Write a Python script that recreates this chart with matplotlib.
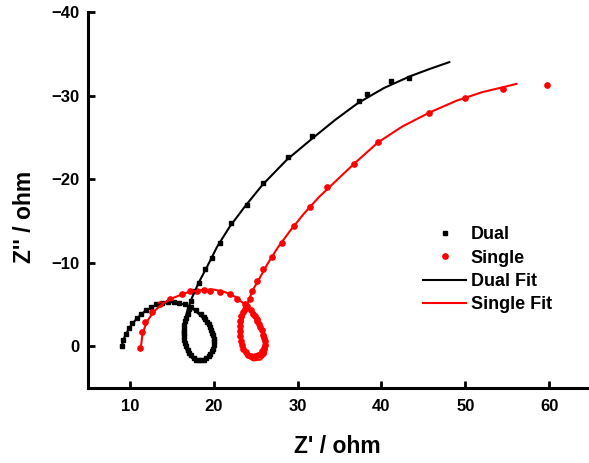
import matplotlib
matplotlib.use("Agg")
import matplotlib.pyplot as plt

plt.rcParams["font.family"] = ["Liberation Sans", "DejaVu Sans"]
plt.rcParams["font.weight"] = "bold"

# measured impedance, Z' and Z'' in ohm
dual_re = [9.0, 9.2, 9.5, 9.9, 10.3, 10.8, 11.3, 11.9, 12.5, 13.1, 13.8, 14.5,
           15.2, 15.9, 16.6, 17.3, 17.9, 18.5, 18.8, 19.0, 19.2, 19.4, 19.6,
           19.7, 19.8, 19.9, 20.0, 20.0, 20.0, 19.9, 19.8, 19.6, 19.4, 19.1,
           18.8, 18.5, 18.2, 17.9, 17.6, 17.3, 17.1, 16.9, 16.7, 16.6, 16.5,
           16.4, 16.4, 16.5, 16.5, 16.6, 16.7, 16.9, 17.0, 17.3, 17.7, 18.2,
           19.0, 19.8, 20.8, 22.1, 24.0, 25.9, 28.9, 31.7, 37.3, 38.3, 41.2,
           43.3]
dual_im = [0.0, -0.8, -1.5, -2.2, -2.8, -3.4, -3.9, -4.3, -4.7, -5.0, -5.2, -5.3,
           -5.3, -5.2, -5.0, -4.7, -4.3, -3.8, -3.5, -3.2, -2.9, -2.6, -2.3,
           -2.0, -1.6, -1.3, -0.9, -0.6, -0.2, 0.3, 0.6, 0.9, 1.2, 1.4,
           1.6, 1.7, 1.7, 1.6, 1.4, 1.1, 0.8, 0.4, 0.0, -0.4, -0.8,
           -1.2, -1.6, -2.1, -2.5, -3.0, -3.4, -3.9, -4.4, -5.4, -6.6, -7.6,
           -9.2, -10.6, -12.4, -14.7, -16.9, -19.5, -22.6, -25.2, -29.4, -30.2, -31.8,
           -32.1]

single_re = [11.2, 11.4, 11.8, 12.6, 13.6, 14.8, 16.2, 17.2, 18.0, 18.8, 19.6,
             20.8, 21.9, 22.8, 23.7, 24.4, 24.7, 24.9, 25.1, 25.2, 25.4, 25.5,
             25.7, 25.9, 26.0, 26.1, 26.1, 26.0, 25.8, 25.6, 25.3, 24.9, 24.5,
             24.1, 23.8, 23.5, 23.4, 23.2, 23.1, 23.1, 23.1, 23.1, 23.3, 23.5,
             23.7, 24.0, 24.3, 24.6, 25.2, 25.9, 27.0, 28.2, 29.6, 31.5, 33.5,
             36.7, 39.6, 45.7, 50.0, 54.5, 59.7]
single_im = [0.2, -1.7, -2.9, -4.1, -5.0, -5.6, -6.2, -6.6, -6.6, -6.7, -6.6,
             -6.5, -6.2, -5.6, -5.0, -4.3, -3.9, -3.6, -3.3, -3.0, -2.6, -2.3,
             -1.9, -1.4, -1.0, -0.6, -0.2, 0.2, 0.6, 0.9, 1.1, 1.2, 1.2,
             1.0, 0.7, 0.3, -0.1, -0.6, -1.2, -1.8, -2.4, -3.0, -3.6, -4.1,
             -4.5, -4.8, -5.6, -6.6, -7.8, -9.2, -10.7, -12.4, -14.4, -16.7, -19.1,
             -21.8, -24.5, -27.9, -29.7, -30.8, -31.3]

# equivalent-circuit fits
dual_fit_re = [9.0, 9.4, 10.0, 10.8, 11.8, 12.9, 14.1, 15.3, 16.5, 17.6, 18.6,
               19.4, 19.9, 20.0, 19.7, 19.0, 18.2, 17.4, 16.8, 16.4, 16.3, 16.5,
               16.9, 17.4, 18.2, 19.2, 20.4, 21.9, 23.7, 25.8, 28.7, 31.8, 34.5,
               37.2, 40.3, 43.4, 45.8, 48.1]
dual_fit_im = [0.0, -1.2, -2.3, -3.3, -4.2, -4.8, -5.2, -5.3, -5.0, -4.4, -3.5,
               -2.4, -1.2, 0.0, 1.0, 1.6, 1.8, 1.4, 0.6, -0.5, -1.7, -3.0,
               -4.4, -5.8, -7.6, -9.5, -11.9, -14.3, -16.7, -19.3, -22.3, -24.9, -27.1,
               -29.1, -30.9, -32.3, -33.2, -34.0]

single_fit_re = [11.3, 11.5, 12.0, 12.8, 13.9, 15.2, 16.7, 18.3, 19.9, 21.3,
                 22.6, 23.7, 24.7, 25.5, 26.1, 26.4, 26.2, 25.6, 24.7, 23.9,
                 23.4, 23.2, 23.3, 23.6, 24.1, 24.7, 25.5, 26.5, 27.7, 29.1,
                 30.7, 32.6, 34.7, 36.7, 39.6, 42.5, 45.8, 49.0, 52.0, 54.5, 56.1]
single_fit_im = [0.2, -1.5, -2.9, -4.1, -5.1, -5.8, -6.4, -6.7, -6.8, -6.5,
                 -5.9, -5.0, -3.9, -2.7, -1.4, -0.1, 1.0, 1.6, 1.7, 1.2,
                 0.3, -0.9, -2.3, -3.8, -5.3, -6.8, -8.2, -10.0, -11.9, -13.8,
                 -15.8, -17.9, -19.9, -21.8, -24.4, -26.3, -28.0, -29.4, -30.4, -31.0, -31.4]

fig = plt.figure(figsize=(5.89, 4.63), dpi=100)
ax = fig.add_axes([88 / 589, 75 / 463, 503 / 589, 376 / 463])

ax.plot(dual_re, dual_im, "s", color="black", markersize=3.4, label="Dual")
ax.plot(single_re, single_im, "o", color="red", markersize=3.8, label="Single")
ax.plot(dual_fit_re, dual_fit_im, "-", color="black", linewidth=1.5, label="Dual Fit")
ax.plot(single_fit_re, single_fit_im, "-", color="red", linewidth=1.5, label="Single Fit")

ax.set_xlim(5, 65)
ax.set_ylim(5, -40)
ax.set_xticks([10, 20, 30, 40, 50, 60])
ax.set_yticks([-40, -30, -20, -10, 0])

for side in ["top", "right"]:
    ax.spines[side].set_visible(False)
for side in ["left", "bottom"]:
    ax.spines[side].set_linewidth(2.2)

ax.tick_params(direction="in", length=5, width=2, labelsize=12)
ax.tick_params(axis="x", pad=8)
ax.tick_params(axis="y", pad=6)

ax.set_xlabel("Z' / ohm", fontsize=16.5, fontweight="bold")
ax.set_ylabel("Z'' / ohm", fontsize=16.5, fontweight="bold")
ax.xaxis.set_label_coords(0.495, -0.125)
ax.yaxis.set_label_coords(-0.103, 0.455)

ax.legend(loc="center left", bbox_to_anchor=(0.666, 0.314), frameon=False,
          borderpad=0, borderaxespad=0, handlelength=2.4, handletextpad=0.25,
          labelspacing=0.35, prop={"size": 13, "weight": "bold"})

fig.savefig("out.png", dpi=100, facecolor="white")
